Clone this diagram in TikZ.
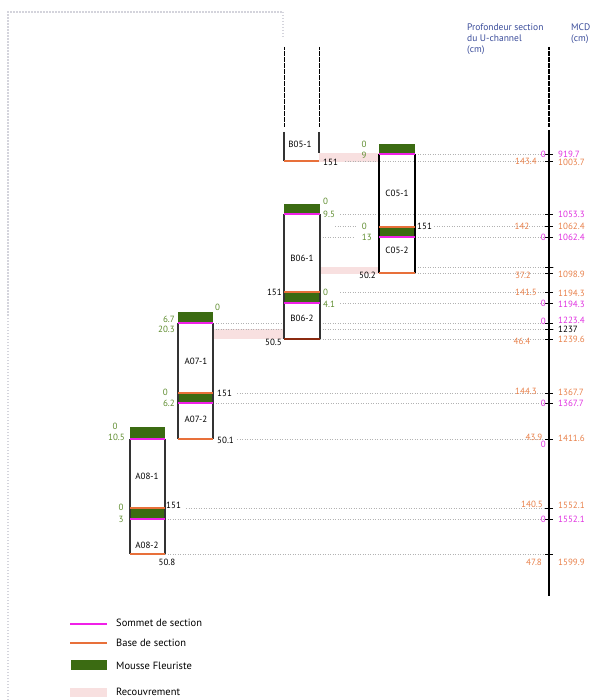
\documentclass[tikz,border=0pt]{standalone}
\usepackage{fontspec}
\setmainfont{PT Sans}
\usetikzlibrary{positioning}
\definecolor{colmousse}{HTML}{3B6B12}
\definecolor{colsommet}{HTML}{F020E8}
\definecolor{colbase}{HTML}{E8703A}
\definecolor{colbasefonce}{HTML}{8B2A10}
\definecolor{colrecouv}{HTML}{F8E0E0}
\definecolor{colvert}{HTML}{5E8C2E}
\definecolor{colorange}{HTML}{E8804A}
\definecolor{colmag}{HTML}{E030E0}
\definecolor{colentete}{HTML}{3A4C9A}
\definecolor{colcadre}{HTML}{D4D4DC}
\tikzstyle{cote}=[draw=black!80,line width=1.1pt]
\tikzstyle{lignesommet}=[draw=colsommet,line width=1.4pt]
\tikzstyle{lignebase}=[draw=colbase,line width=1.4pt]
\tikzstyle{mousse}=[fill=colmousse]
\tikzstyle{recouv}=[fill=colrecouv]
\tikzstyle{guide}=[draw=gray!60,dotted,line width=0.5pt]
\tikzstyle{graduation}=[draw=black,line width=0.6pt]
\tikzstyle{txt}=[font=\fontsize{9}{10}\selectfont,inner sep=0pt]
\tikzstyle{leg}=[txt,anchor=west,font=\fontsize{10.5}{12}\selectfont]
\tikzstyle{vvert}=[txt,text=colvert]
\tikzstyle{vorange}=[txt,text=colorange]
\tikzstyle{vmag}=[txt,text=colmag]
\tikzstyle{vnoir}=[txt,text=black]

\begin{document}
\begin{tikzpicture}[x=1pt,y=-1pt]
\useasboundingbox (0,0) rectangle (594,700);
% cadre
\draw[colcadre,line width=1.5pt,dash pattern=on 1.5pt off 1.5pt] (8,700) -- (8,12) -- (283,12) -- (283,38);
% en-tetes
\node[txt,text=colentete,align=left,anchor=north west,font=\fontsize{9.5}{11}\selectfont] (hprof) at (467,24) {Profondeur section\\du U-channel\\(cm)};
\node[txt,text=colentete,align=left,anchor=north west,font=\fontsize{9.5}{11}\selectfont] (hmcd) at (571,24) {MCD\\(cm)};
% recouvrements
\fill[recouv] (319,153) rectangle (379,162);
\fill[recouv] (320,267) rectangle (379,274);
\fill[recouv] (213,329) rectangle (284,339);
% lignes de report
\draw[guide] (415,154) -- (549,154);
\draw[guide] (345,161) -- (549,161);
\draw[guide] (340,214) -- (549,214);
\draw[guide] (335,226) -- (356,226);
\draw[guide] (434,226) -- (549,226);
\draw[guide] (320,237) -- (354,237);
\draw[guide] (415,237) -- (549,237);
\draw[guide] (415,267) -- (554,267);
\draw[guide] (415,273) -- (549,273);
\draw[guide] (340,292) -- (549,292);
\draw[guide] (340,303) -- (549,303);
\draw[guide] (213,323) -- (284,323);
\draw[guide] (320,323) -- (549,323);
\draw[guide] (213,329) -- (284,329);
\draw[guide] (320,329) -- (554,329);
\draw[guide] (320,339) -- (549,339);
\draw[guide] (237,393) -- (549,393);
\draw[guide] (213,403) -- (549,403);
\draw[guide] (237,439) -- (549,439);
\draw[guide] (186,508) -- (549,508);
\draw[guide] (165,519) -- (549,519);
\draw[guide] (165,554) -- (549,554);
% axe MCD
\draw[black,line width=1.1pt,dash pattern=on 0.6pt off 0.6pt] (549,47) -- (549,127);
\draw[black,line width=1.4pt] (549,130) -- (549,596);
\foreach \y in {154,161,214,226,237,267,273,292,303,323,329,339,393,403,439,508,519,554}
  \draw[graduation] (545,\y) -- (553,\y);
% colonne B
\draw[black,line width=0.9pt,dash pattern=on 0.6pt off 0.6pt] (284,47) -- (284,127);
\draw[black,line width=0.9pt,dash pattern=on 0.6pt off 0.6pt] (319,47) -- (319,127);
\draw[cote] (284,132) -- (284,161);
\draw[cote] (319,132) -- (319,153);
\draw[lignebase] (284,161) -- (319,161);
\fill[mousse] (284,204) rectangle (320,214);
\fill[mousse] (284,292) rectangle (320,303);
\draw[cote] (284,214) -- (284,339);
\draw[cote] (320,214) -- (320,339);
\draw[lignesommet] (284,214) -- (320,214);
\draw[lignebase] (284,292) -- (320,292);
\draw[lignesommet] (284,303) -- (320,303);
\draw[draw=colbasefonce,line width=1.4pt] (284,339) -- (320,339);
% colonne C
\fill[mousse] (379,144) rectangle (415,154);
\fill[mousse] (379,227) rectangle (415,237);
\draw[cote,draw=black] (379,154) -- (379,273);
\draw[cote,draw=black] (415,154) -- (415,273);
\draw[lignesommet] (379,154) -- (415,154);
\draw[lignebase] (379,227) -- (415,227);
\draw[lignesommet] (379,237) -- (415,237);
\draw[lignebase] (379,273) -- (415,273);
% colonne A07
\fill[mousse] (178,312) rectangle (213,323);
\fill[mousse] (178,393) rectangle (213,403);
\draw[cote] (178,323) -- (178,439);
\draw[cote] (213,323) -- (213,439);
\draw[lignesommet] (178,323) -- (213,323);
\draw[lignebase] (178,393) -- (213,393);
\draw[lignesommet] (178,403) -- (213,403);
\draw[lignebase] (178,439) -- (213,439);
% colonne A08
\fill[mousse] (130,427) rectangle (165,439);
\fill[mousse] (130,508) rectangle (165,519);
\draw[cote] (130,439) -- (130,554);
\draw[cote] (165,439) -- (165,554);
\draw[lignesommet] (130,439) -- (165,439);
\draw[lignebase] (130,508) -- (165,508);
\draw[lignesommet] (130,519) -- (165,519);
\draw[lignebase] (130,554) -- (165,554);
% noms des sections
\node[vnoir] (nB051) at (300,144) {B05-1};
\node[vnoir] (nC051) at (397,193) {C05-1};
\node[vnoir] (nC052) at (397,250) {C05-2};
\node[vnoir] (nB061) at (302,258) {B06-1};
\node[vnoir] (nB062) at (302,318) {B06-2};
\node[vnoir] (nA071) at (196,361) {A07-1};
\node[vnoir] (nA072) at (196,419) {A07-2};
\node[vnoir] (nA081) at (147,476) {A08-1};
\node[vnoir] (nA082) at (147,545) {A08-2};
% profondeurs mousse
\node[vvert] (vC05a) at (364,144) {0};
\node[vvert] (vC05b) at (364,155) {9};
\node[vvert,anchor=west] (vB06a) at (323,201) {0};
\node[vvert,anchor=west] (vB06b) at (323,214) {9.5};
\node[vvert,anchor=east] (vC05c) at (367,226) {0};
\node[vvert,anchor=east] (vC05d) at (372,237) {13};
\node[vvert,anchor=west] (vB06c) at (323,292) {0};
\node[vvert,anchor=west] (vB06d) at (323,304) {4.1};
\node[vvert,anchor=west] (vA07a) at (215,307) {0};
\node[vvert,anchor=east] (vA07b) at (175,319) {6.7};
\node[vvert,anchor=east] (vA07c) at (175,329) {20.3};
\node[vvert,anchor=east] (vA07d) at (168,392) {0};
\node[vvert,anchor=east] (vA07e) at (175,403) {6.2};
\node[vvert] (vA08a) at (115,426) {0};
\node[vvert,anchor=east] (vA08b) at (125,437) {10.5};
\node[vvert] (vA08c) at (121,507) {0};
\node[vvert] (vA08d) at (121,519) {3};
% longueurs
\node[vnoir,anchor=west] (lB05) at (323,162) {151};
\node[vnoir,anchor=west] (lC05a) at (417,226) {151};
\node[vnoir,anchor=east] (lC05b) at (376,275) {50.2};
\node[vnoir,anchor=east] (lB06a) at (282,292) {151};
\node[vnoir,anchor=east] (lB06b) at (282,342) {50.5};
\node[vnoir,anchor=west] (lA07a) at (217,393) {151};
\node[vnoir,anchor=west] (lA07b) at (217,440) {50.1};
\node[vnoir,anchor=west] (lA08a) at (166,505) {151};
\node[vnoir] (lA08b) at (167,562) {50.8};
% profondeurs U-channel
\node[vmag,anchor=east] (pu1) at (546,154) {0};
\node[vorange] (pu2) at (526,161) {143.4};
\node[vorange] (pu3) at (522,226) {142};
\node[vmag,anchor=east] (pu4) at (546,237) {0};
\node[vorange] (pu5) at (523,275) {37.2};
\node[vorange] (pu6) at (526,292) {141.5};
\node[vmag,anchor=east] (pu7) at (546,303) {0};
\node[vmag,anchor=east] (pu8) at (546,321) {0};
\node[vorange] (pu9) at (522,341) {46.4};
\node[vorange] (pu10) at (526,391) {144.3};
\node[vmag,anchor=east] (pu11) at (546,403) {0};
\node[vorange] (pu12) at (534,437) {43.9};
\node[vmag,anchor=east] (pu13) at (546,444) {0};
\node[vorange] (pu14) at (532,504) {140.5};
\node[vmag,anchor=east] (pu15) at (546,519) {0};
\node[vorange] (pu16) at (534,562) {47.8};
% MCD
\node[vmag,anchor=west] (m1) at (558,154) {919.7};
\node[vorange,anchor=west] (m2) at (558,162) {1003.7};
\node[vmag,anchor=west] (m3) at (558,214) {1053.3};
\node[vorange,anchor=west] (m4) at (558,226) {1062.4};
\node[vmag,anchor=west] (m5) at (558,237) {1062.4};
\node[vorange,anchor=west] (m6) at (558,274) {1098.9};
\node[vorange,anchor=west] (m7) at (558,293) {1194.3};
\node[vmag,anchor=west] (m8) at (558,304) {1194.3};
\node[vmag,anchor=west] (m9) at (558,320) {1223.4};
\node[vnoir,anchor=west] (m10) at (558,329) {1237};
\node[vorange,anchor=west] (m11) at (558,339) {1239.6};
\node[vorange,anchor=west] (m12) at (558,392) {1367.7};
\node[vmag,anchor=west] (m13) at (558,403) {1367.7};
\node[vorange,anchor=west] (m14) at (558,438) {1411.6};
\node[vorange,anchor=west] (m15) at (558,505) {1552.1};
\node[vmag,anchor=west] (m16) at (558,519) {1552.1};
\node[vorange,anchor=west] (m17) at (558,562) {1599.9};
% legende
\draw[lignesommet] (70,624) -- (107,624);
\node[leg] (legS) at (116,623) {Sommet de section};
\draw[lignebase] (70,643) -- (107,643);
\node[leg] (legB) at (116,643) {Base de section};
\fill[mousse] (71,660) rectangle (107,670);
\node[leg] (legM) at (116,666) {Mousse Fleuriste};
\fill[recouv] (70,688) rectangle (107,697);
\node[leg] (legR) at (116,692) {Recouvrement};
\end{tikzpicture}
\end{document}
